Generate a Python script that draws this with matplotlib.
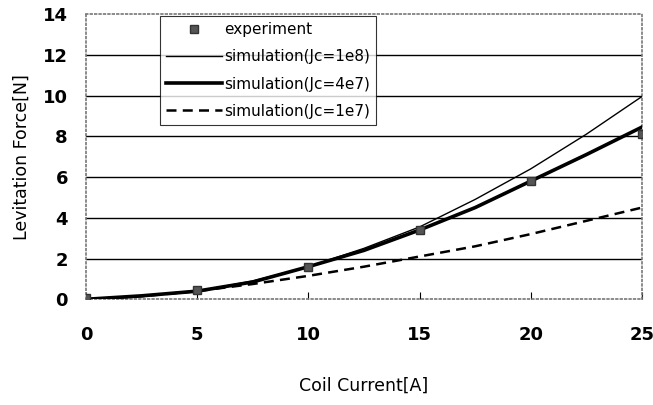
import matplotlib
matplotlib.use("Agg")
import matplotlib.pyplot as plt

# ---------------------------------------------------------------- data
current_exp = [0, 5, 10, 15, 20, 25]
force_exp = [0.05, 0.45, 1.6, 3.4, 5.8, 8.1]

current_sim = [0, 2.5, 5, 7.5, 10, 12.5, 15, 17.5, 20, 22.5, 25]
force_jc1e8 = [0, 0.15, 0.4, 0.9, 1.6, 2.5, 3.55, 4.9, 6.4, 8.1, 9.95]
force_jc4e7 = [0, 0.17, 0.4, 0.85, 1.6, 2.4, 3.4, 4.5, 5.8, 7.1, 8.45]
force_jc1e7 = [0, 0.15, 0.4, 0.75, 1.15, 1.6, 2.1, 2.6, 3.2, 3.85, 4.5]

x_ticks = [0, 5, 10, 15, 20, 25]
y_ticks = [0, 2, 4, 6, 8, 10, 12, 14]

# ---------------------------------------------------------------- plot
fig = plt.figure(figsize=(6.53, 4.05), dpi=100)
ax = fig.add_axes([0.1317, 0.261, 0.8513, 0.7044])

for y in y_ticks[1:-1]:
    ax.axhline(y, color="black", lw=1.0, zorder=1)

ax.plot(current_exp, force_exp, ls="none", marker="s", ms=5.5,
        mfc="#555555", mec="#333333", mew=1.0, label="experiment", zorder=5)
ax.plot(current_sim, force_jc1e8, color="black", lw=1.0,
        label="simulation(Jc=1e8)", zorder=3)
ax.plot(current_sim, force_jc4e7, color="black", lw=2.6,
        label="simulation(Jc=4e7)", zorder=3)
ax.plot(current_sim, force_jc1e7, color="black", lw=1.8, ls=(0, (4, 2.5)),
        label="simulation(Jc=1e7)", zorder=3)

ax.set_xlim(0, 25)
ax.set_ylim(0, 14)
ax.set_xticks(x_ticks)
ax.set_yticks(y_ticks)
ax.tick_params(axis="x", direction="in", length=5, pad=19, labelsize=13)
ax.tick_params(axis="y", length=0, pad=13, labelsize=13)
for lab in ax.get_xticklabels() + ax.get_yticklabels():
    lab.set_fontweight("bold")

for side in ax.spines.values():
    side.set_color("#777777")
    side.set_linestyle(":")
    side.set_linewidth(1.2)

ax.set_xlabel("Coil Current[A]", fontsize=12.5, labelpad=24)
ax.set_ylabel("Levitation Force[N]", fontsize=12.5, labelpad=9)

leg = ax.legend(loc="upper left", bbox_to_anchor=(0.133, 0.992), fontsize=11,
                frameon=True, fancybox=False, edgecolor="black",
                handlelength=3.7, handletextpad=0.15, labelspacing=0.8,
                borderpad=0.38, borderaxespad=0)
leg.get_frame().set_linewidth(0.8)

fig.savefig("out.png", dpi=100)
